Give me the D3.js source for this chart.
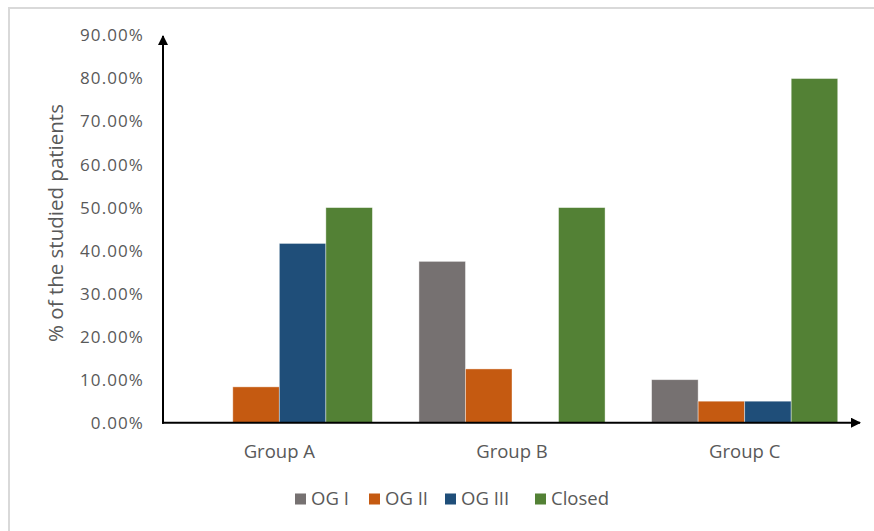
<!DOCTYPE html>
<head>
  <meta charset="UTF-8">
  <title>Studied patients</title>
  <script src="https://d3js.org/d3.v7.min.js"></script>
  <style>
    body { margin: 0; background: #fff; }
    text { font-family: "Open Sans", sans-serif; fill: #595959; }
  </style>
</head>
<body>
<svg id="chart"></svg>
<script>
// data
const groups = ["Group A", "Group B", "Group C"];
const series = ["OG I", "OG II", "OG III", "Closed"];
const colors = ["#767171", "#C55A11", "#1F4E79", "#538135"];
const ogI    = [0, 0.375, 0.10];
const ogII   = [0.0833, 0.125, 0.05];
const ogIII  = [0.4167, 0, 0.05];
const closed = [0.50, 0.50, 0.80];
const yTicks = [0, 0.1, 0.2, 0.3, 0.4, 0.5, 0.6, 0.7, 0.8, 0.9];

const values = [ogI, ogII, ogIII, closed];

const width = 874, height = 531;
const svg = d3.select("#chart").attr("width", width).attr("height", height);

// frame (only left and top edges show)
svg.append("rect")
  .attr("x", 9).attr("y", 8)
  .attr("width", 1000).attr("height", 1000)
  .attr("fill", "none").attr("stroke", "#d9d9d9").attr("stroke-width", 2);

const x0 = d3.scaleBand().domain(groups).range([163, 861]).paddingInner(0.2).paddingOuter(0.1);
const x1 = d3.scaleBand().domain(series).range([0, x0.bandwidth()]);
const y = d3.scaleLinear().domain([0, 0.9]).range([422.7, 35.5]);

// bars
const rows = [];
groups.forEach((g, gi) => series.forEach((s, si) => rows.push({g: g, s: s, si: si, v: values[si][gi]})));

svg.append("g").selectAll("rect")
  .data(rows.filter(d => d.v > 0))
  .enter().append("rect")
    .attr("x", d => x0(d.g) + x1(d.s))
    .attr("y", d => y(d.v))
    .attr("width", x1.bandwidth())
    .attr("height", d => y(0) - y(d.v))
    .attr("fill", d => colors[d.si])
    .attr("stroke", "#ffffff").attr("stroke-opacity", 0.5).attr("stroke-width", 0.8);

// y tick labels
svg.append("g").selectAll("text")
  .data(yTicks)
  .enter().append("text")
    .attr("x", 144)
    .attr("y", d => y(d))
    .attr("dy", "0.35em")
    .attr("text-anchor", "end")
    .style("font-size", "17px")
    .style("letter-spacing", "1.1px")
    .text(d => d3.format(".2%")(d));

// group labels
svg.append("g").selectAll("text")
  .data(groups)
  .enter().append("text")
    .attr("x", d => x0(d) + x0.bandwidth() / 2)
    .attr("y", 452)
    .attr("dy", "0.35em")
    .attr("text-anchor", "middle")
    .style("font-size", "18.5px")
    .text(d => d);

// axes with arrows
svg.append("defs").append("marker")
  .attr("id", "arrow")
  .attr("viewBox", "0 0 10 10")
  .attr("refX", 9).attr("refY", 5)
  .attr("markerWidth", 5).attr("markerHeight", 5)
  .attr("orient", "auto")
  .append("path").attr("d", "M0,0 L10,5 L0,10 Z").attr("fill", "#000");

svg.append("line")
  .attr("x1", 163).attr("y1", y(0) + 1)
  .attr("x2", 163).attr("y2", 36)
  .attr("stroke", "#000").attr("stroke-width", 2)
  .attr("marker-end", "url(#arrow)");

svg.append("line")
  .attr("x1", 162).attr("y1", y(0))
  .attr("x2", 860).attr("y2", y(0))
  .attr("stroke", "#000").attr("stroke-width", 2)
  .attr("marker-end", "url(#arrow)");

// y title
svg.append("text")
  .attr("transform", "translate(56,223) rotate(-90)")
  .attr("dy", "0.35em")
  .attr("text-anchor", "middle")
  .style("font-size", "20.5px")
  .text("% of the studied patients");

// legend
const legX = [295, 369, 445, 535];
const legend = svg.append("g").selectAll("g")
  .data(series)
  .enter().append("g")
    .attr("transform", (d, i) => "translate(" + legX[i] + ",499)");
legend.append("rect")
  .attr("x", 0).attr("y", -5.5)
  .attr("width", 11).attr("height", 11)
  .attr("fill", (d, i) => colors[i]);
legend.append("text")
  .attr("x", 16).attr("y", 0)
  .attr("dy", "0.35em")
  .style("font-size", "18.5px")
  .text(d => d);
</script>
</body>
